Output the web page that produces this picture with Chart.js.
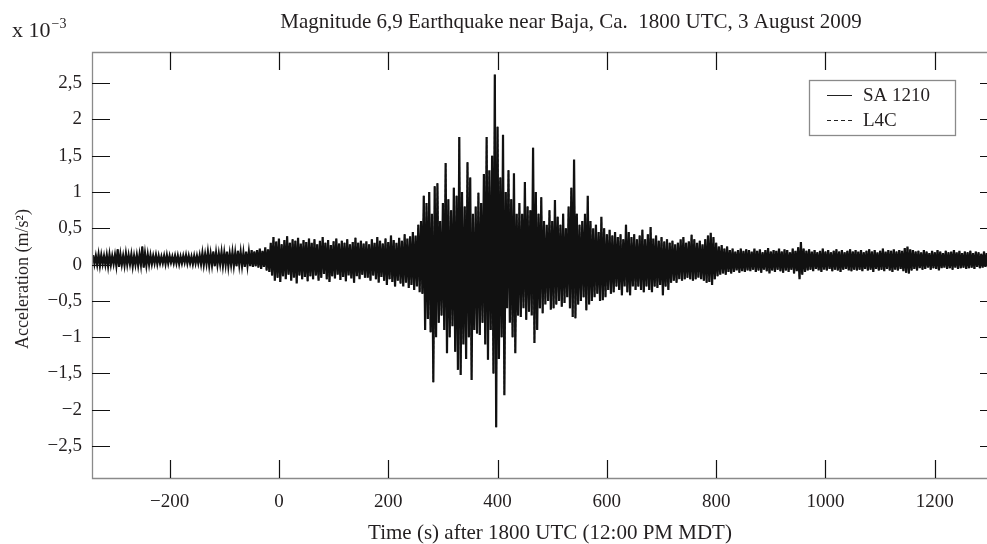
<!DOCTYPE html>
<html>
<head>
<meta charset="utf-8">
<script src="https://cdn.jsdelivr.net/npm/chart.js@4/dist/chart.umd.min.js"></script>
<style>
  html, body { margin: 0; padding: 0; background: #fff; overflow: hidden; }
  canvas { display: block; }
</style>
</head>
<body>
<canvas id="quake" width="987" height="544"></canvas>
<script>
// Seismogram of the 3 August 2009 Baja earthquake, acceleration in units of 1e-3 m/s^2.
const chartTitle = 'Magnitude 6,9 Earthquake near Baja, Ca.  1800 UTC, 3 August 2009';
const xAxisTitle = 'Time (s) after 1800 UTC (12:00 PM MDT)';
const yAxisTitle = 'Acceleration (m/s²)';
const seriesLabels = ['SA 1210', 'L4C'];
const xTickValues = [-200, 0, 200, 400, 600, 800, 1000, 1200];
const yTickValues = [-2.5, -2, -1.5, -1, -0.5, 0, 0.5, 1, 1.5, 2, 2.5];

// Samples every 5 s from t = -340 s; each sample holds the swing up and the swing down.
const sampleStart = -340;
const sampleStep = 5;

const swingUp = [
  0.13,0.12,0.14,0.13,0.12,0.13,0.14,0.12,0.13,0.21,0.14,0.12,0.15,0.13,0.14,0.12,0.13,0.14,0.25,0.15,
  0.14,0.13,0.12,0.13,0.12,0.11,0.12,0.13,0.12,0.11,0.12,0.12,0.11,0.12,0.13,0.12,0.11,0.12,0.12,0.13,
  0.16,0.14,0.17,0.15,0.18,0.16,0.15,0.17,0.16,0.18,0.15,0.17,0.16,0.19,0.17,0.16,0.18,0.17,0.20,0.18,
  0.20,0.22,0.19,0.24,0.21,0.30,0.38,0.32,0.36,0.28,0.34,0.39,0.30,0.35,0.33,0.37,0.29,0.34,0.31,0.36,
  0.30,0.35,0.28,0.33,0.38,0.30,0.34,0.27,0.32,0.36,0.29,0.33,0.30,0.35,0.28,0.31,0.37,0.30,0.33,0.29,
  0.32,0.28,0.35,0.30,0.38,0.33,0.29,0.36,0.31,0.40,0.34,0.30,0.37,0.33,0.42,0.36,0.39,0.45,0.40,0.55,
  0.60,0.95,0.85,1.00,0.70,1.08,1.12,0.60,0.85,1.40,0.90,0.75,1.06,0.95,1.76,1.00,0.80,1.41,1.20,0.70,
  0.80,0.99,0.85,1.25,1.76,1.30,1.50,2.62,1.90,1.20,1.79,1.00,1.30,0.90,1.26,0.70,0.85,0.70,1.14,0.80,
  0.75,1.61,1.00,0.70,0.93,0.60,0.55,0.75,0.60,0.89,0.66,0.55,0.70,0.50,0.80,1.06,1.45,0.70,0.55,0.60,
  0.70,0.95,0.60,0.50,0.55,0.45,0.66,0.50,0.42,0.48,0.40,0.45,0.38,0.42,0.35,0.55,0.45,0.38,0.42,0.35,
  0.40,0.48,0.35,0.42,0.52,0.36,0.40,0.33,0.38,0.32,0.35,0.30,0.33,0.28,0.30,0.35,0.38,0.30,0.32,0.41,
  0.35,0.30,0.33,0.28,0.35,0.40,0.44,0.38,0.30,0.25,0.27,0.22,0.25,0.20,0.22,0.18,0.20,0.22,0.19,0.21,
  0.20,0.18,0.22,0.19,0.21,0.17,0.20,0.23,0.18,0.20,0.19,0.22,0.18,0.21,0.20,0.17,0.22,0.19,0.24,0.31,
  0.22,0.19,0.21,0.18,0.20,0.17,0.19,0.22,0.18,0.20,0.17,0.19,0.21,0.18,0.20,0.17,0.19,0.21,0.18,0.20,
  0.18,0.20,0.17,0.19,0.21,0.18,0.20,0.17,0.19,0.22,0.18,0.20,0.19,0.21,0.18,0.20,0.19,0.23,0.25,0.21,
  0.20,0.18,0.19,0.17,0.20,0.18,0.16,0.19,0.17,0.20,0.18,0.16,0.19,0.17,0.18,0.20,0.17,0.19,0.16,0.18,
  0.17,0.19,0.16,0.18,0.17,0.15,0.18,0.16
];

const swingDown = [
  0.01,0.00,-0.01,0.01,0.00,-0.02,0.00,0.01,-0.01,-0.03,0.00,-0.01,0.00,0.01,-0.02,0.00,-0.01,0.00,-0.04,-0.01,
  0.00,0.01,0.02,0.01,0.02,0.02,0.01,0.02,0.03,0.02,0.02,0.01,0.02,0.03,0.02,0.02,0.01,0.02,0.02,0.01,
  0.00,0.01,-0.01,0.00,-0.02,0.00,0.01,-0.01,0.00,-0.02,0.00,-0.01,-0.02,0.00,-0.01,-0.03,-0.01,-0.02,-0.03,-0.02,
  -0.04,-0.06,-0.03,-0.08,-0.10,-0.15,-0.22,-0.18,-0.24,-0.16,-0.20,-0.14,-0.22,-0.18,-0.26,-0.15,-0.20,-0.17,-0.23,-0.16,
  -0.20,-0.15,-0.22,-0.18,-0.13,-0.20,-0.24,-0.16,-0.19,-0.14,-0.21,-0.17,-0.23,-0.15,-0.19,-0.25,-0.16,-0.20,-0.14,-0.18,
  -0.18,-0.22,-0.15,-0.20,-0.25,-0.17,-0.22,-0.28,-0.20,-0.24,-0.30,-0.22,-0.26,-0.30,-0.25,-0.32,-0.28,-0.35,-0.30,-0.38,
  -0.40,-0.90,-0.75,-0.93,-1.62,-1.00,-0.80,-0.70,-0.90,-1.22,-1.00,-0.85,-1.20,-1.45,-1.52,-1.10,-1.30,-1.00,-1.59,-0.90,
  -0.95,-0.97,-0.80,-1.10,-1.31,-0.90,-1.50,-2.24,-1.30,-1.00,-1.80,-0.60,-0.80,-1.00,-1.22,-0.70,-0.72,-0.60,-0.76,-0.65,
  -0.70,-1.08,-0.90,-0.60,-0.67,-0.55,-0.50,-0.62,-0.60,-0.55,-0.50,-0.58,-0.53,-0.45,-0.60,-0.72,-0.74,-0.55,-0.50,-0.45,
  -0.63,-0.55,-0.50,-0.45,-0.40,-0.50,-0.49,-0.45,-0.35,-0.40,-0.38,-0.30,-0.35,-0.42,-0.30,-0.38,-0.42,-0.30,-0.35,-0.30,
  -0.35,-0.38,-0.30,-0.35,-0.38,-0.30,-0.32,-0.28,-0.42,-0.30,-0.35,-0.25,-0.22,-0.25,-0.20,-0.22,-0.20,-0.18,-0.20,-0.22,
  -0.20,-0.18,-0.20,-0.22,-0.25,-0.24,-0.28,-0.20,-0.16,-0.14,-0.12,-0.14,-0.10,-0.12,-0.10,-0.08,-0.11,-0.09,-0.10,-0.08,
  -0.09,-0.07,-0.10,-0.08,-0.11,-0.07,-0.09,-0.12,-0.08,-0.10,-0.07,-0.09,-0.11,-0.08,-0.10,-0.07,-0.12,-0.09,-0.20,-0.14,
  -0.10,-0.08,-0.07,-0.09,-0.06,-0.08,-0.10,-0.07,-0.08,-0.06,-0.09,-0.07,-0.08,-0.10,-0.07,-0.06,-0.08,-0.09,-0.07,-0.08,
  -0.07,-0.09,-0.06,-0.08,-0.07,-0.10,-0.06,-0.08,-0.07,-0.09,-0.06,-0.08,-0.10,-0.07,-0.08,-0.06,-0.09,-0.11,-0.12,-0.08,
  -0.06,-0.08,-0.05,-0.07,-0.06,-0.04,-0.07,-0.05,-0.06,-0.08,-0.05,-0.04,-0.06,-0.05,-0.07,-0.04,-0.06,-0.05,-0.04,-0.06,
  -0.05,-0.04,-0.06,-0.03,-0.05,-0.04,-0.03,-0.05
];

// Zig-zag trace: up-swing at the sample time, down-swing half a step later.
const trace = [];
swingUp.forEach((up, i) => {
  const t = sampleStart + i * sampleStep;
  trace.push({ x: t, y: up });
  trace.push({ x: t + sampleStep / 2, y: swingDown[i] });
});

const SERIF = "'Liberation Serif', 'DejaVu Serif', 'Times New Roman', serif";
const INK = '#231f20';
const FRAME = '#8a8a8a';

function decimalComma(v) {
  const s = String(Math.abs(v)).replace('.', ',');
  return (v < 0 ? '\u2212' : '') + s;
}

// Frame, inward ticks, legend box and all free text.
const decorations = {
  id: 'decorations',
  afterDatasetsDraw(chart) {
    const { ctx, chartArea: a, scales: { x, y } } = chart;
    ctx.save();

    // frame: left, top and bottom edges
    ctx.strokeStyle = FRAME;
    ctx.lineWidth = 1.3;
    ctx.beginPath();
    ctx.moveTo(a.right, a.top + 0.5);
    ctx.lineTo(a.left + 0.5, a.top + 0.5);
    ctx.lineTo(a.left + 0.5, a.bottom + 0.5);
    ctx.lineTo(a.right, a.bottom + 0.5);
    ctx.stroke();

    // inward ticks
    ctx.strokeStyle = '#111';
    ctx.lineWidth = 1.2;
    ctx.beginPath();
    xTickValues.forEach(v => {
      const px = Math.round(x.getPixelForValue(v)) + 0.5;
      ctx.moveTo(px, a.bottom); ctx.lineTo(px, a.bottom - 18);
      ctx.moveTo(px, a.top); ctx.lineTo(px, a.top + 18);
    });
    yTickValues.forEach(v => {
      const py = Math.round(y.getPixelForValue(v)) + 0.5;
      ctx.moveTo(a.left, py); ctx.lineTo(a.left + 18, py);
      ctx.moveTo(a.right, py); ctx.lineTo(a.right - 7, py);
    });
    ctx.stroke();

    // legend
    const lx = 809.5, ly = 80.5, lw = 146, lh = 55;
    ctx.fillStyle = '#fff';
    ctx.fillRect(lx, ly, lw, lh);
    ctx.strokeStyle = FRAME;
    ctx.lineWidth = 1.3;
    ctx.strokeRect(lx, ly, lw, lh);
    chart.data.datasets.forEach((ds, i) => {
      const rowY = 95.5 + i * 25;
      ctx.strokeStyle = '#222';
      ctx.lineWidth = 1;
      ctx.setLineDash(ds.borderDash ? [4, 3] : []);
      ctx.beginPath();
      ctx.moveTo(827, rowY); ctx.lineTo(852, rowY);
      ctx.stroke();
      ctx.setLineDash([]);
      ctx.fillStyle = INK;
      ctx.font = `19px ${SERIF}`;
      ctx.textAlign = 'left';
      ctx.textBaseline = 'middle';
      ctx.fillText(ds.label, 863, rowY + 1);
    });

    // chart title
    ctx.fillStyle = INK;
    ctx.textBaseline = 'alphabetic';
    ctx.textAlign = 'center';
    ctx.font = `21px ${SERIF}`;
    ctx.fillText(chartTitle, 571, 28);

    // scale factor
    ctx.textAlign = 'left';
    ctx.font = `22px ${SERIF}`;
    ctx.fillText('x 10', 12, 37);
    const w = ctx.measureText('x 10').width;
    ctx.font = `14px ${SERIF}`;
    ctx.fillText('\u22123', 12 + w + 1, 28);

    // x-axis title
    ctx.textAlign = 'center';
    ctx.textBaseline = 'middle';
    ctx.font = `21px ${SERIF}`;
    ctx.fillText(xAxisTitle, 550, 533);

    // y-axis title
    ctx.translate(23, 279);
    ctx.rotate(-Math.PI / 2);
    ctx.font = `18px ${SERIF}`;
    ctx.fillText(yAxisTitle, 0, 0);

    ctx.restore();
  }
};

new Chart(document.getElementById('quake'), {
  type: 'scatter',
  data: {
    datasets: [
      { label: seriesLabels[0], data: trace, showLine: true, borderColor: '#111', borderWidth: 2.2, pointRadius: 0, tension: 0 },
      { label: seriesLabels[1], data: trace, showLine: true, borderColor: '#000', borderWidth: 1.2, borderDash: [3, 2], pointRadius: 0, tension: 0 }
    ]
  },
  options: {
    responsive: false,
    animation: false,
    events: [],
    layout: { padding: { top: 52, left: 0, right: 0, bottom: 0 } },
    plugins: { legend: { display: false }, tooltip: { enabled: false }, title: { display: false } },
    scales: {
      x: {
        type: 'linear',
        min: -342,
        max: 1295.5,
        afterBuildTicks: s => { s.ticks = xTickValues.map(v => ({ value: v })); },
        afterFit: s => { s.height = 66; },
        grid: { display: false, drawTicks: false },
        border: { display: false },
        ticks: {
          autoSkip: false, maxRotation: 0, padding: 13, color: INK,
          font: { family: SERIF, size: 19 },
          callback: v => decimalComma(v)
        }
      },
      y: {
        type: 'linear',
        min: -2.94,
        max: 2.93,
        afterBuildTicks: s => { s.ticks = yTickValues.map(v => ({ value: v })); },
        afterFit: s => { s.width = 92; },
        grid: { display: false, drawTicks: false },
        border: { display: false },
        ticks: {
          autoSkip: false, padding: 10, color: INK,
          font: { family: SERIF, size: 19 },
          callback: v => decimalComma(v)
        }
      }
    }
  },
  plugins: [decorations]
});
</script>
</body>
</html>
